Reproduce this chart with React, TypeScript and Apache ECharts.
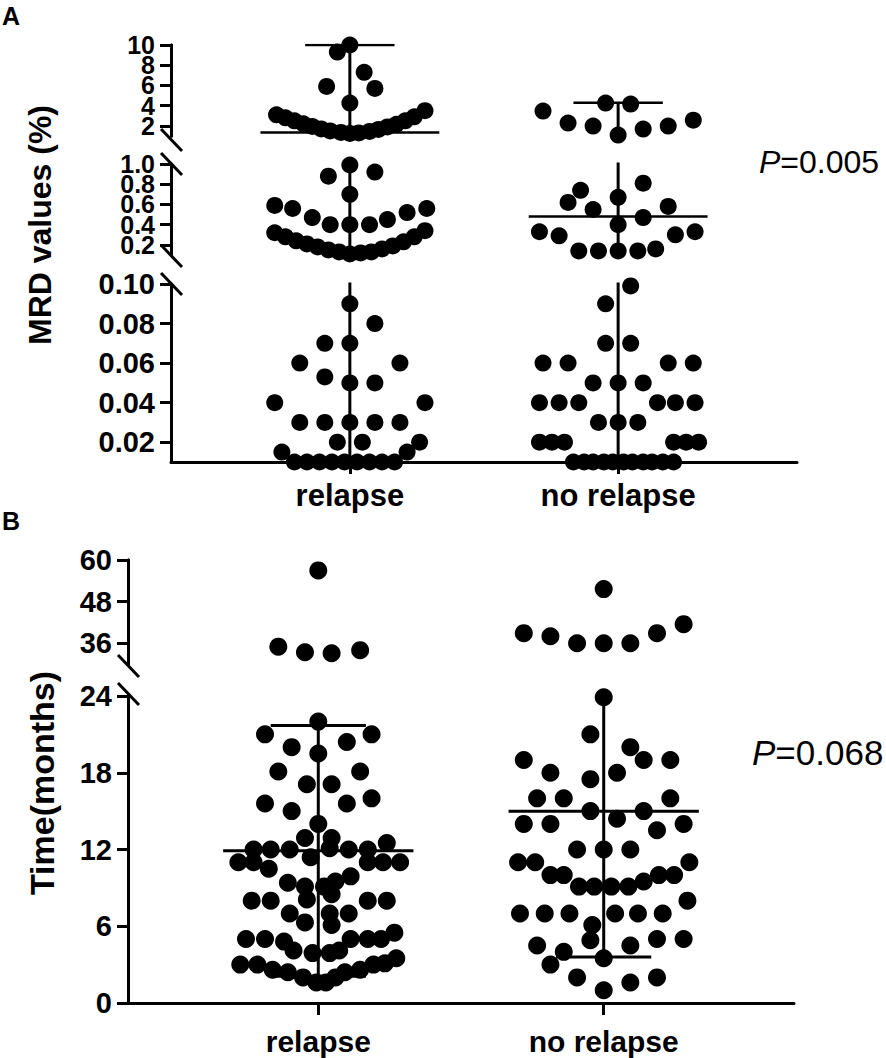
import React, { useEffect, useRef } from 'react';
import * as echarts from 'echarts';

// ---------- categories ----------
const categories = ['relapse', 'no relapse'];
const categoryPos = [1, 2.5];

// ---------- Panel A: MRD values (%) ----------
const mrdRelapse = [
  10, 9.3, 7.3, 5.9, 5.7, 4.26, 3.1, 2.8, 2.5, 2.2, 1.95, 1.7, 1.5, 1.35, 1.25, 1.3, 1.45, 1.65, 1.9, 2.15, 2.5, 2.9, 3.5,
  0.99, 0.88, 0.92, 0.7, 0.59, 0.56, 0.56, 0.52, 0.47, 0.4, 0.4, 0.4, 0.45,
  0.32, 0.28, 0.24, 0.21, 0.18, 0.15, 0.13, 0.11, 0.12, 0.13, 0.16, 0.19, 0.23, 0.28, 0.34,
  0.09, 0.08, 0.07, 0.07, 0.06, 0.06, 0.053, 0.05, 0.05, 0.04, 0.04, 0.03, 0.03, 0.03, 0.03, 0.03,
  0.02, 0.02, 0.02, 0.015, 0.015, 0.01, 0.01, 0.01, 0.01, 0.01, 0.01, 0.01, 0.01, 0.01,
];
const mrdRelapseX = [
  0, -0.07, 0.08, -0.13, 0.14, 0, -0.41, -0.36, -0.31, -0.26, -0.21, -0.16, -0.11, -0.05, 0, 0.05, 0.11, 0.16, 0.21, 0.26, 0.31, 0.36, 0.42,
  0, -0.12, 0.14, 0, -0.42, -0.32, 0.43, 0.32, -0.21, -0.11, 0, 0.11, 0.21,
  -0.42, -0.36, -0.3, -0.24, -0.18, -0.12, -0.06, 0, 0.06, 0.12, 0.18, 0.24, 0.3, 0.36, 0.42,
  0, 0.14, -0.14, 0, -0.28, 0.28, -0.14, 0, 0.14, -0.42, 0.42, -0.28, -0.14, 0, 0.14, 0.28,
  -0.07, 0.07, 0.39, -0.38, 0.32, -0.31, -0.24, -0.17, -0.1, -0.03, 0.04, 0.11, 0.18, 0.25,
];
const mrdNoRelapse = [
  3.47, 2.28, 1.98, 4.26, 4.16, 1.09, 1.68, 1.98, 2.57,
  0.81, 0.74, 0.62, 0.67, 0.55, 0.58, 0.47, 0.4, 0.33, 0.29, 0.3, 0.33, 0.14, 0.14, 0.14, 0.14, 0.16,
  0.099, 0.09, 0.07, 0.07, 0.06, 0.06, 0.06, 0.06, 0.05, 0.05, 0.05,
  0.04, 0.04, 0.04, 0.04, 0.04, 0.04, 0.03, 0.03, 0.03,
  0.02, 0.02, 0.02, 0.02, 0.02, 0.02,
  0.01, 0.01, 0.01, 0.01, 0.01, 0.01, 0.01, 0.01, 0.01, 0.01, 0.01,
];
const mrdNoRelapseX = [
  -0.42, -0.28, -0.14, -0.07, 0.07, 0, 0.14, 0.28, 0.42,
  0.14, -0.21, -0.28, 0, -0.14, 0.28, 0.14, 0, -0.44, -0.33, 0.32, 0.43, -0.22, -0.11, 0, 0.11, 0.21,
  0.07, -0.07, -0.07, 0.07, -0.42, -0.28, 0.28, 0.42, -0.14, 0, 0.14,
  -0.44, -0.33, -0.22, 0.22, 0.32, 0.43, -0.11, 0, 0.11,
  -0.44, -0.37, -0.3, 0.31, 0.38, 0.45,
  -0.25, -0.19, -0.14, -0.08, -0.03, 0.03, 0.08, 0.14, 0.19, 0.25, 0.31,
];
const mrdCenter = [1.35, 0.48];
const mrdUpper = [10, 4.29];
const mrdLower = [0.005, 0.005];
const mrdTicks = [
  [0.02, 0.04, 0.06, 0.08, 0.1],
  [0.2, 0.4, 0.6, 0.8, 1.0],
  [2, 4, 6, 8, 10],
];
const mrdRanges = [
  [0.01, 0.1],
  [0.1, 1],
  [1, 10],
];
const mrdDecimals = [2, 1, 0];

// ---------- Panel B: Time (months) ----------
const timeRelapse = [
  57, 35, 33.4, 33.1, 34.0,
  22.0, 21.0, 21.0, 20.0, 20.4, 19.5, 18.1, 18.1, 17.1, 17.1,
  15.6, 15.0, 15.6, 16.0, 14.0, 12.9, 12.9,
  12.0, 12.0, 12.0, 12.1, 12.0, 12.0, 12.5, 11.4,
  11.0, 11.0, 11.0, 11.0, 11.0, 10.5, 9.9,
  9.4, 9.5, 9.1, 9.1,
  8.0, 8.0, 8.0, 8.0, 8.1, 8.5,
  7.0, 7.0, 7.0, 6.3, 6.1,
  5.0, 5.0, 4.8, 5.0, 5.0, 5.0, 5.5,
  4.1, 3.9, 3.9, 4.1,
  3.0, 3.0, 2.6, 2.4, 2.4, 2.6, 3.0, 3.1, 3.5,
  2.0, 1.6, 1.6, 2.0,
];
const timeRelapseX = [
  0, -0.21, -0.07, 0.07, 0.22,
  0, -0.28, 0.28, -0.14, 0.15, 0, -0.21, 0.22, -0.06, 0.07,
  -0.28, -0.14, 0.15, 0.28, 0, -0.07, 0.07,
  -0.34, -0.25, -0.15, 0.06, 0.16, 0.26, 0.36, -0.04,
  -0.42, -0.34, 0.26, 0.34, 0.43, -0.26, 0.17,
  -0.16, 0.09, -0.07, 0.03,
  -0.35, -0.25, 0.26, 0.36, -0.06, 0.07,
  -0.15, 0.16, 0.06, -0.07, 0.07,
  -0.38, -0.28, -0.18, 0.17, 0.26, 0.33, 0.4,
  -0.13, -0.03, 0.06, 0.11,
  -0.41, -0.32, -0.24, -0.16, 0.14, 0.22, 0.29, 0.35, 0.41,
  -0.08, -0.01, 0.04, 0.09,
];
const timeNoRelapse = [
  51.6, 38.9, 38.0, 36.0, 36.0, 36.0, 38.9, 41.5,
  23.9, 21.0, 20.0, 19.0, 19.0, 19.0, 18.0, 18.0, 17.5,
  16.0, 16.0, 16.0, 15.0, 15.0, 14.4, 14.0, 14.0, 14.0, 13.5,
  12.0, 12.0, 12.0, 11.0, 11.0, 11.0, 10.0, 10.0, 10.0, 10.0,
  9.1, 9.1, 9.1, 9.1, 9.5, 8.0,
  7.0, 7.0, 7.0, 7.0, 7.0, 7.0, 6.1, 4.9,
  4.5, 4.0, 4.5, 5.0, 5.0, 3.5, 3.0,
  2.0, 1.6, 2.0, 1.0,
];
const timeNoRelapseX = [
  0, -0.42, -0.28, -0.14, 0, 0.14, 0.28, 0.42,
  0, -0.07, 0.14, 0.21, 0.35, -0.42, -0.28, 0.07, -0.07,
  -0.35, -0.21, 0.35, -0.07, 0.21, 0.07, -0.42, -0.28, 0.42, 0.28,
  -0.14, 0, 0.14, -0.45, -0.36, 0.45, -0.28, -0.21, 0.29, 0.37,
  -0.13, -0.05, 0.04, 0.13, 0.21, 0.44,
  -0.44, -0.31, -0.18, 0.06, 0.18, 0.31, -0.06, -0.07,
  -0.35, -0.21, 0.14, 0.28, 0.42, 0, -0.28,
  -0.14, 0.14, 0.28, 0,
];
const timeCenter = [11.9, 15.0];
const timeUpper = [21.7, 26.4];
const timeLower = [2.1, 3.6];
const timeTicks = [
  [0, 6, 12, 18, 24],
  [36, 48, 60],
];
const timeRanges = [
  [0, 24],
  [30, 60],
];

// ---------- layout (styling only) ----------
const FONT = "'Liberation Sans', Arial, Helvetica, sans-serif";
const panelA = { left: 171, width: 626, segs: [
  { top: 284, height: 178 },
  { top: 164, height: 91 },
  { top: 45, height: 91 },
] };
const panelB = { left: 128, width: 666, segs: [
  { top: 696, height: 307 },
  { top: 560, height: 104 },
] };

function App() {
  const ref = useRef<HTMLDivElement>(null);

  useEffect(() => {
    if (!ref.current) return;
    const chart = echarts.init(ref.current, undefined, { renderer: 'svg' });

    const grids: any[] = [];
    const xAxes: any[] = [];
    const yAxes: any[] = [];
    const series: any[] = [];

    const addPanel = (
      panel: any,
      ranges: number[][],
      ticks: number[][],
      fmt: (v: number, i: number) => string,
      groups: { vals: number[]; xs: number[] }[],
      center: number[],
      upper: number[],
      lower: number[],
      opts: { dot: number; tickFont: number[]; tickLH: number[]; xFont: number; xMargin: number; hLine: number }
    ) => {
      const base = grids.length;
      ranges.forEach((r, i) => {
        const idx = base + i;
        grids.push({
          left: panel.left, top: panel.segs[i].top, width: panel.width, height: panel.segs[i].height,
          containLabel: false, outerBoundsMode: 'none',
        });
        const isBottom = i === 0;
        xAxes.push({
          type: 'value', gridIndex: idx, min: 0, max: 3.5, show: isBottom,
          axisLine: { show: true, onZero: false, lineStyle: { color: '#000', width: 3 } },
          axisTick: { show: true, length: 12, customValues: categoryPos, lineStyle: { color: '#000', width: 3 } },
          axisLabel: {
            show: true, customValues: categoryPos, margin: opts.xMargin,
            showMinLabel: true, showMaxLabel: true,
            formatter: (v: number) => { const k = categoryPos.indexOf(v); return k >= 0 ? categories[k] : ''; },
            color: '#000', fontSize: opts.xFont, fontWeight: 'bold', fontFamily: FONT,
          },
          splitLine: { show: false },
        });
        // two y axes on the same line so that densely packed tick labels are all kept
        const parts = [
          ticks[i].filter((_, k) => k % 2 === 0),
          ticks[i].filter((_, k) => k % 2 === 1),
        ];
        parts.forEach((tv) => {
          yAxes.push({
            type: 'value', gridIndex: idx, min: r[0], max: r[1], position: 'left', offset: 0,
            axisLine: { show: true, onZero: false, lineStyle: { color: '#000', width: 3 } },
            axisTick: { show: true, length: 11, customValues: tv, lineStyle: { color: '#000', width: 3 } },
            axisLabel: {
              show: true, customValues: tv, margin: 16,
              showMinLabel: true, showMaxLabel: true, hideOverlap: false,
              formatter: (v: number) => fmt(v, i),
              color: '#000', fontSize: opts.tickFont[i], lineHeight: opts.tickLH[i],
              fontWeight: 'bold', fontFamily: FONT,
            },
            splitLine: { show: false },
          });
        });
      });

      groups.forEach((g, gi) => {
        const c = categoryPos[gi];
        // dots, assigned to the lowest segment containing the value
        const perSeg: number[][][] = ranges.map(() => []);
        g.vals.forEach((v, k) => {
          const s = ranges.findIndex((r) => v >= r[0] && v <= r[1]);
          if (s >= 0) perSeg[s].push([c + g.xs[k], v]);
        });
        ranges.forEach((_, i) => {
          const idx = base + i;
          const yIdx = idx * 2;
          series.push({
            type: 'scatter', xAxisIndex: idx, yAxisIndex: yIdx, data: perSeg[i],
            symbol: 'circle', symbolSize: opts.dot, itemStyle: { color: '#000', opacity: 1 }, clip: false, z: 3,
          });
          const lines = [
            { d: [[c, lower[gi]], [c, upper[gi]]], w: 3 },
            { d: [[c - 0.25, upper[gi]], [c + 0.25, upper[gi]]], w: opts.hLine },
            { d: [[c - 0.25, lower[gi]], [c + 0.25, lower[gi]]], w: opts.hLine },
            { d: [[c - 0.5, center[gi]], [c + 0.5, center[gi]]], w: opts.hLine },
          ];
          lines.forEach((ln) => {
            series.push({
              type: 'line', xAxisIndex: idx, yAxisIndex: yIdx, data: ln.d, symbol: 'none',
              lineStyle: { color: '#000', width: ln.w }, clip: true, z: 4, silent: true,
            });
          });
        });
      });
    };

    addPanel(
      panelA, mrdRanges, mrdTicks, (v, i) => v.toFixed(mrdDecimals[i]),
      [{ vals: mrdRelapse, xs: mrdRelapseX }, { vals: mrdNoRelapse, xs: mrdNoRelapseX }],
      mrdCenter, mrdUpper, mrdLower,
      { dot: 17, tickFont: [29, 25, 25], tickLH: [34, 19, 19], xFont: 31, xMargin: 18, hLine: 2.5 }
    );
    addPanel(
      panelB, timeRanges, timeTicks, (v) => String(v),
      [{ vals: timeRelapse, xs: timeRelapseX }, { vals: timeNoRelapse, xs: timeNoRelapseX }],
      timeCenter, timeUpper, timeLower,
      { dot: 18, tickFont: [29, 29], tickLH: [34, 34], xFont: 30, xMargin: 23, hLine: 3 }
    );

    // break marks on the y axes
    const breakMark = (cx: number, cy: number) => ({
      type: 'line', shape: { x1: cx - 10, y1: cy - 11, x2: cx + 11, y2: cy + 11 },
      style: { stroke: '#000', lineWidth: 3 }, z: 10,
    });
    const aS = panelA.segs;
    const bS = panelB.segs;
    const marks = [
      breakMark(panelA.left, aS[2].top + aS[2].height + 4),
      breakMark(panelA.left, aS[1].top),
      breakMark(panelA.left, aS[1].top + aS[1].height + 1),
      breakMark(panelA.left, aS[0].top),
      breakMark(panelB.left, bS[1].top + bS[1].height + 2),
      breakMark(panelB.left, bS[0].top - 2),
    ];

    const txt = (text: string, x: number, y: number, size: number, extra: any = {}) => ({
      type: 'text', x, y, z: 10, ...extra,
      style: {
        text, fill: '#000', fontSize: size, fontWeight: 'bold', fontFamily: FONT,
        align: extra.align || 'left', textAlign: extra.align || 'left',
        verticalAlign: 'middle', textVerticalAlign: 'middle',
      },
    });
    const pText = (val: string, x: number, y: number, size: number) => ({
      type: 'text', x, y, z: 10,
      style: {
        text: '{i|P}{n|=' + val + '}', fill: '#000', fontSize: size, fontFamily: FONT,
        align: 'left', textAlign: 'left', verticalAlign: 'middle', textVerticalAlign: 'middle',
        rich: {
          i: { fontStyle: 'italic', fontSize: size, fontFamily: FONT, fill: '#000', color: '#000' },
          n: { fontSize: size, fontFamily: FONT, fill: '#000', color: '#000' },
        },
      },
    });

    const graphic: any[] = [
      ...marks,
      txt('A', 2, 16, 25),
      txt('B', 2, 521, 25),
      { ...txt('MRD values (%)', 40, 225, 32, { align: 'center' }), rotation: Math.PI / 2 },
      { ...txt('Time(months)', 42, 783, 34, { align: 'center' }), rotation: Math.PI / 2 },
      pText('0.005', 759, 162, 32),
      pText('0.068', 752, 752, 35),
    ];

    chart.setOption({
      animation: false,
      backgroundColor: '#fff',
      grid: grids,
      xAxis: xAxes,
      yAxis: yAxes,
      series,
      graphic,
    });

    return () => chart.dispose();
  }, []);

  return (
    <div
      ref={ref}
      style={{ position: 'absolute', left: 0, top: 0, width: 886, height: 1058, background: '#fff' }}
    />
  );
}

export default App;
